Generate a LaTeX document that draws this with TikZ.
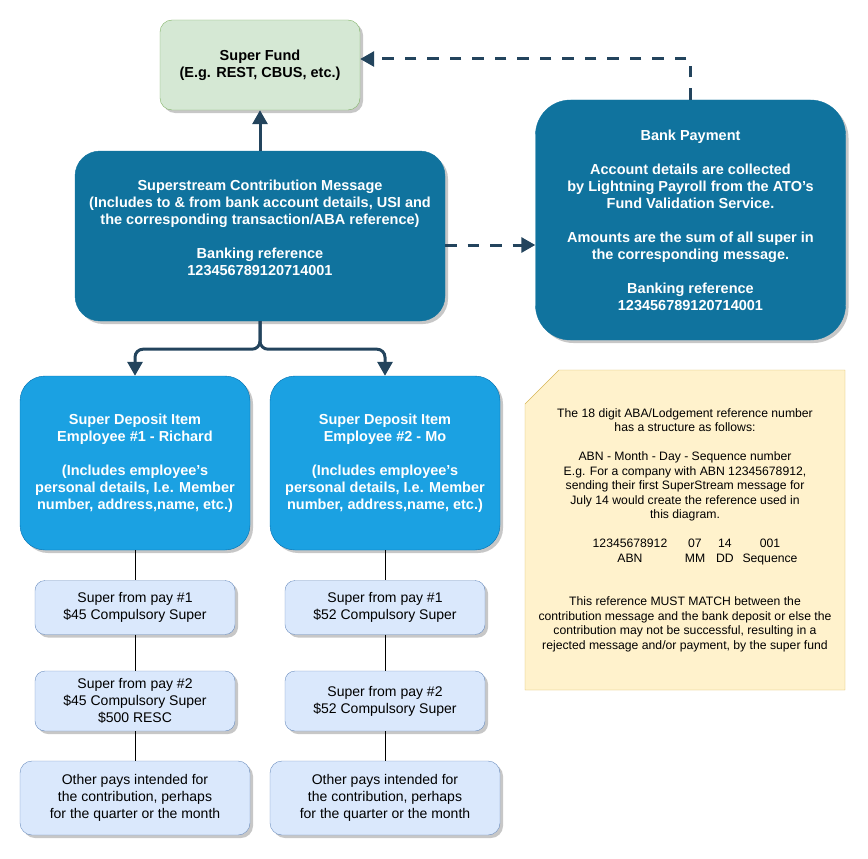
\documentclass[tikz,border=0pt]{standalone}
\usepackage{fontspec}
\setmainfont{Liberation Sans}
\usetikzlibrary{arrows.meta,positioning,shadows}

\definecolor{fundfill}{HTML}{D5E8D4}
\definecolor{funddraw}{HTML}{82B366}
\definecolor{msgfill}{HTML}{10739E}
\definecolor{itemfill}{HTML}{1BA1E2}
\definecolor{itemdraw}{HTML}{006EAF}
\definecolor{payfill}{HTML}{DAE8FC}
\definecolor{paydraw}{HTML}{6C8EBF}
\definecolor{notefill}{HTML}{FFF2CC}
\definecolor{notedraw}{HTML}{D6B656}
\definecolor{flowline}{HTML}{23445D}

\begin{document}
\begin{tikzpicture}[x=1pt, y=-1pt,
        every node/.style={align=center, inner sep=0pt},
        bold/.style={font=\bfseries\fontsize{14.5}{17}\selectfont},
        plain/.style={font=\fontsize{14}{17}\selectfont},
        shade/.style={drop shadow={shadow xshift=3pt, shadow yshift=-3pt, opacity=0.22, fill=black}},
        fundbox/.style={bold, shade, fill=fundfill, draw=funddraw, rounded corners=12pt, minimum width=200pt, minimum height=90pt},
        msgbox/.style={bold, shade, fill=msgfill, draw=msgfill, text=white, rounded corners=#1},
        itembox/.style={bold, shade, fill=itemfill, draw=itemdraw, text=white, rounded corners=25pt, minimum width=230pt, minimum height=174pt},
        paybox/.style={plain, shade, fill=payfill, draw=paydraw, rounded corners=10pt},
        notebox/.style={fill=notefill, draw=notedraw},
        notetext/.style={font=\fontsize{12.2}{14.5}\selectfont},
        flow/.style={->, >={Triangle[length=14pt,width=15pt]}, line width=3pt, draw=flowline},
        ref/.style={flow, dash pattern=on 11.5pt off 11pt},
        link/.style={draw=black, line width=0.8pt}]
        \useasboundingbox (0,0) rectangle (868,859);

        \node[fundbox] (fund) at (260,65) {Super Fund\\(E.g. REST, CBUS, etc.)};
        \node[msgbox=25pt, minimum width=370pt, minimum height=170pt] (msg) at (260,236)
            {Superstream Contribution Message\\(Includes to \& from bank account details, USI and\\the corresponding transaction/ABA reference)\\[17pt]Banking reference\\123456789120714001\\ \mbox{}};
        \node[msgbox=35pt, minimum width=310pt, minimum height=240pt] (bank) at (690.5,220)
            {Bank Payment\\[17pt]Account details are collected\\by Lightning Payroll from the ATO's\\Fund Validation Service.\\[17pt]Amounts are the sum of all super in\\the corresponding message.\\[17pt]Banking reference\\123456789120714001};

        \node[itembox] (item1) at (135,463) {Super Deposit Item\\Employee \#1 - Richard\\[17pt](Includes employee's\\personal details, I.e. Member\\number, address,name, etc.)};
        \node[itembox] (item2) at (385,463) {Super Deposit Item\\Employee \#2 - Mo\\[17pt](Includes employee's\\personal details, I.e. Member\\number, address,name, etc.)};

        \node[paybox, minimum width=200pt, minimum height=54pt] (pay11) at (135,607.5) {Super from pay \#1\\\$45 Compulsory Super};
        \node[paybox, minimum width=200pt, minimum height=60pt] (pay12) at (135,701) {Super from pay \#2\\\$45 Compulsory Super\\\$500 RESC};
        \node[paybox, rounded corners=12pt, minimum width=230pt, minimum height=74pt] (other1) at (135,798) {Other pays intended for\\the contribution, perhaps\\for the quarter or the month};
        \node[paybox, minimum width=200pt, minimum height=54pt] (pay21) at (385,607.5) {Super from pay \#1\\\$52 Compulsory Super};
        \node[paybox, minimum width=200pt, minimum height=60pt] (pay22) at (385,701) {Super from pay \#2\\\$52 Compulsory Super};
        \node[paybox, rounded corners=12pt, minimum width=230pt, minimum height=74pt] (other2) at (385,798) {Other pays intended for\\the contribution, perhaps\\for the quarter or the month};

        \filldraw[notebox] (525,404) -- (559,370) -- (845,370) -- (845,690) -- (525,690) -- cycle;
        \node[notetext] (note) at (685,530)
            {The 18 digit ABA/Lodgement reference number\\has a structure as follows:\\[14.5pt]
            ABN - Month - Day - Sequence number\\E.g. For a company with ABN 12345678912,\\sending their first SuperStream message for\\July 14 would create the reference used in\\this diagram.\\[14.5pt]
            \makebox[110pt]{12345678912}\makebox[20pt]{07}\makebox[40pt]{14}\makebox[50pt]{001}\\
            \makebox[110pt]{ABN}\makebox[20pt]{MM}\makebox[40pt]{DD}\makebox[50pt]{Sequence}\\[29pt]
            This reference MUST MATCH between the\\contribution message and the bank deposit or else the\\contribution may not be successful, resulting in a\\rejected message and/or payment, by the super fund};

        \draw[flow] (msg.north) -- (fund.south);
        \draw[flow, rounded corners=8pt] (msg.south) -- ++(0,28) -| (item1.north);
        \draw[flow, rounded corners=8pt] (msg.south) -- ++(0,28) -| (item2.north);
        \draw[ref] ([yshift=-9pt]msg.east) -- ([yshift=-9pt]msg.east -| bank.west);
        \draw[ref] (bank.north) |- ([yshift=6pt]fund.east);

        \draw[link] (item1) -- (pay11) -- (pay12) -- (other1);
        \draw[link] (item2) -- (pay21) -- (pay22) -- (other2);
    \end{tikzpicture}
\end{document}
